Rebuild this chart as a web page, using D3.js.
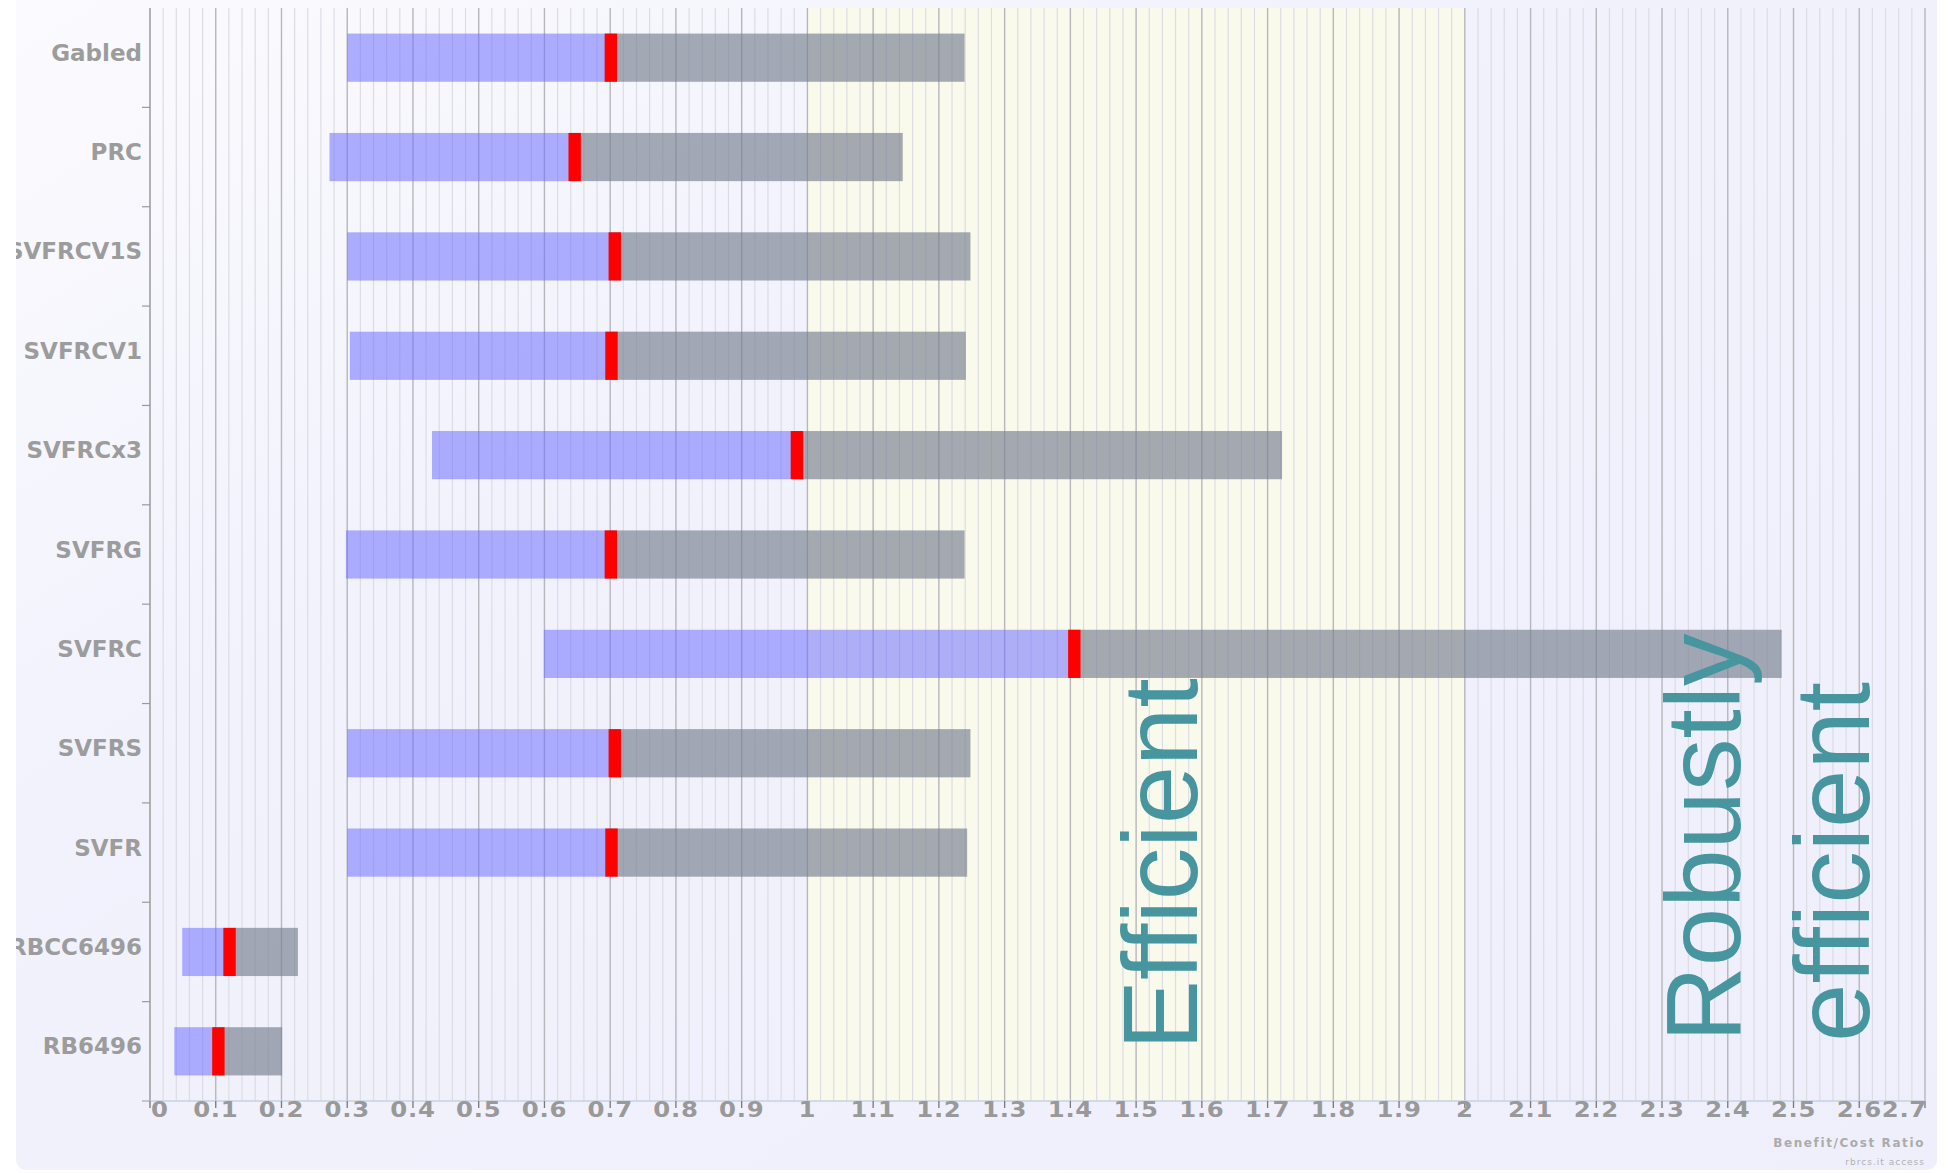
<!DOCTYPE html>
<html>
<head>
<meta charset="utf-8">
<script src="https://cdn.jsdelivr.net/npm/d3@7"></script>
<style>
  html, body { margin: 0; padding: 0; background: #ffffff; }
  svg { display: block; }
</style>
</head>
<body>
<script>
// ---------------- data ----------------
const categories = ["Gabled", "PRC", "SVFRCV1S", "SVFRCV1", "SVFRCx3", "SVFRG", "SVFRC", "SVFRS", "SVFR", "RBCC6496", "RB6496"];
const lowValues  = [0.300, 0.273, 0.300, 0.304, 0.429, 0.298, 0.599, 0.300, 0.300, 0.049, 0.037];
const midValues  = [0.701, 0.646, 0.707, 0.702, 0.984, 0.701, 1.406, 0.707, 0.702, 0.121, 0.104];
const highValues = [1.239, 1.145, 1.248, 1.241, 1.722, 1.239, 2.482, 1.248, 1.243, 0.225, 0.201];
const tickValues = [0, 0.1, 0.2, 0.3, 0.4, 0.5, 0.6, 0.7, 0.8, 0.9, 1, 1.1, 1.2, 1.3, 1.4, 1.5, 1.6, 1.7, 1.8, 1.9, 2, 2.1, 2.2, 2.3, 2.4, 2.5, 2.6, 2.7];
const tickLabels = ["0", "0.1", "0.2", "0.3", "0.4", "0.5", "0.6", "0.7", "0.8", "0.9", "1", "1.1", "1.2", "1.3", "1.4", "1.5", "1.6", "1.7", "1.8", "1.9", "2", "2.1", "2.2", "2.3", "2.4", "2.5", "2.6", "2.7"];
const zoneFrom = 1, zoneTo = 2;
const annotationLines = [["Efficient"], ["Robustly", "efficient"]];
const annotationAt = [1.592, 2.419];
const axisTitle = "Benefit/Cost Ratio";
const footnote = "rbrcs.it access";
const xDomain = [0, 2.7];

// ---------------- layout ----------------
const W = 1951, H = 1173;
const plot = { left: 150, right: 1925, top: 8, bottom: 1101 };

const svg = d3.select("body").append("svg").attr("width", W).attr("height", H);
const defs = svg.append("defs");

const grad = defs.append("linearGradient").attr("id", "panelGrad")
  .attr("x1", "0%").attr("y1", "0%").attr("x2", "100%").attr("y2", "100%");
grad.append("stop").attr("offset", "0%").attr("stop-color", "#fbfbfe");
grad.append("stop").attr("offset", "35%").attr("stop-color", "#f2f2fd");
grad.append("stop").attr("offset", "100%").attr("stop-color", "#efeffc");

defs.append("clipPath").attr("id", "panelClip").append("rect")
  .attr("x", 16).attr("y", -20).attr("width", 1921).attr("height", 1190).attr("rx", 10);

svg.append("rect").attr("x", 16).attr("y", -20).attr("width", 1921).attr("height", 1190)
  .attr("rx", 10).attr("fill", "url(#panelGrad)");

const root = svg.append("g").attr("clip-path", "url(#panelClip)");

const x = d3.scaleLinear().domain(xDomain).range([plot.left, plot.right]);
const y = d3.scaleBand().domain(categories).range([plot.top, plot.bottom]).padding(0);
const barH = y.bandwidth() * 0.485;

// efficient zone
root.append("rect")
  .attr("x", x(zoneFrom)).attr("y", plot.top)
  .attr("width", x(zoneTo) - x(zoneFrom)).attr("height", plot.bottom - plot.top)
  .attr("fill", "#fafaec");

// grid lines: minor every 0.02, major every 0.1
const minorTicks = d3.range(0, 136).map(i => i * 0.02).filter(v => v <= 2.7001 && Math.round(v * 50) % 5 !== 0);
root.append("g").selectAll("line").data(minorTicks).join("line")
  .attr("x1", d => x(d)).attr("x2", d => x(d))
  .attr("y1", plot.top).attr("y2", plot.bottom)
  .attr("stroke", "#dcdce4").attr("stroke-width", 1.2);
root.append("g").selectAll("line").data(tickValues.filter(v => v > 0)).join("line")
  .attr("x1", d => x(d)).attr("x2", d => x(d))
  .attr("y1", plot.top).attr("y2", plot.bottom)
  .attr("stroke", "#b6b6bc").attr("stroke-width", 1.4);

// bars
const rows = categories.map((c, i) => ({ c, lo: lowValues[i], mid: midValues[i], hi: highValues[i] }));
const bars = root.append("g");
bars.selectAll("rect.low").data(rows).join("rect").attr("class", "low")
  .attr("x", d => x(d.lo)).attr("width", d => x(d.mid) - x(d.lo))
  .attr("y", d => y(d.c) + (y.bandwidth() - barH) / 2).attr("height", barH)
  .attr("fill", "rgba(112,112,255,0.55)");
bars.selectAll("rect.high").data(rows).join("rect").attr("class", "high")
  .attr("x", d => x(d.mid)).attr("width", d => x(d.hi) - x(d.mid))
  .attr("y", d => y(d.c) + (y.bandwidth() - barH) / 2).attr("height", barH)
  .attr("fill", "rgba(118,128,142,0.66)");
bars.selectAll("rect.mid").data(rows).join("rect").attr("class", "mid")
  .attr("x", d => x(d.mid) - 6.2).attr("width", 12.4)
  .attr("y", d => y(d.c) + (y.bandwidth() - barH) / 2).attr("height", barH)
  .attr("fill", "#ff0000");

// y axis
const yAxisG = root.append("g");
yAxisG.append("line").attr("x1", plot.left).attr("x2", plot.left)
  .attr("y1", plot.top).attr("y2", plot.bottom).attr("stroke", "#9a9a9a").attr("stroke-width", 1.5);
const boundaries = categories.map(c => y(c) + y.bandwidth());
yAxisG.selectAll("line.tick").data(boundaries).join("line").attr("class", "tick")
  .attr("x1", plot.left - 8).attr("x2", plot.left).attr("y1", d => d).attr("y2", d => d)
  .attr("stroke", "#9a9a9a").attr("stroke-width", 1.2);
yAxisG.selectAll("text").data(categories).join("text")
  .attr("x", 142).attr("y", d => y(d) + y.bandwidth() / 2 + 3)
  .attr("text-anchor", "end")
  .attr("font-family", "DejaVu Sans").attr("font-weight", "bold").attr("font-size", 23)
  .attr("fill", "#9c9c9c").text(d => d);

// x axis
const xAxisG = root.append("g");
xAxisG.append("line").attr("x1", plot.left).attr("x2", plot.right)
  .attr("y1", plot.bottom).attr("y2", plot.bottom).attr("stroke", "#c6d2e2").attr("stroke-width", 1.5);
xAxisG.selectAll("line.tick").data(tickValues).join("line").attr("class", "tick")
  .attr("x1", d => x(d)).attr("x2", d => x(d))
  .attr("y1", plot.bottom).attr("y2", plot.bottom + 7)
  .attr("stroke", "#777").attr("stroke-width", 1.3);
xAxisG.selectAll("text").data(tickValues).join("text")
  .attr("transform", (d, i) => {
    const tx = i === 0 ? x(d) + 1 : (i === tickValues.length - 1 ? x(d) + 2 : x(d));
    return `translate(${tx},${plot.bottom + 16}) scale(1.16,1)`;
  })
  .attr("text-anchor", (d, i) => i === 0 ? "start" : (i === tickValues.length - 1 ? "end" : "middle"))
  .attr("font-family", "DejaVu Sans").attr("font-weight", "bold").attr("font-size", 21)
  .attr("letter-spacing", 0.6)
  .attr("fill", "#999999").text((d, i) => tickLabels[i]);

// axis title & footnote
root.append("text").attr("x", 1925).attr("y", 1147).attr("text-anchor", "end")
  .attr("font-family", "DejaVu Sans").attr("font-weight", "bold").attr("font-size", 12)
  .attr("letter-spacing", 1.6).attr("fill", "#ababab").text(axisTitle);
root.append("text").attr("x", 1925).attr("y", 1165).attr("text-anchor", "end")
  .attr("font-family", "DejaVu Sans").attr("font-size", 9)
  .attr("letter-spacing", 1).attr("fill", "#b0b0b0").text(footnote);

// annotations (rotated)
const ann = root.append("g");
annotationLines.forEach((lines, k) => {
  const bx = x(annotationAt[k]);
  const startY = k === 0 ? 1050 : 1042;
  const t = ann.append("text")
    .attr("transform", `translate(${bx},${startY}) rotate(-90)`)
    .attr("font-family", "Liberation Sans").attr("font-size", 105)
    .attr("fill", "#47969f");
  lines.forEach((ln, j) => {
    t.append("tspan").attr("x", 0).attr("y", j * 129).text(ln);
  });
});
</script>
</body>
</html>
